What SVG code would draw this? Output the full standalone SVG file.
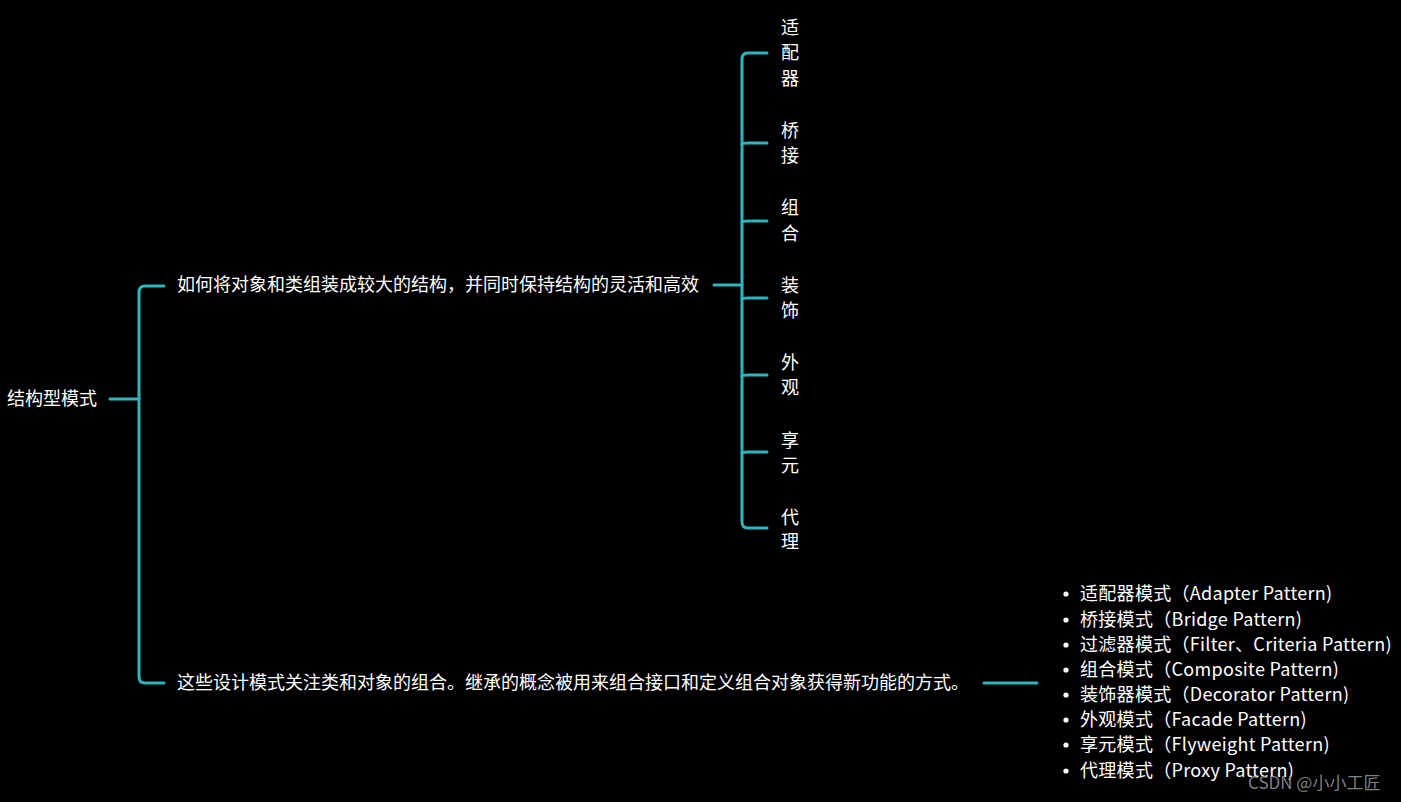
<svg xmlns="http://www.w3.org/2000/svg" width="1401" height="802" viewBox="0 0 1401 802">
<style>
text{font-family:"Microsoft YaHei","Noto Sans CJK SC","Noto Sans",sans-serif;font-size:18px;fill:#ffffff}
.c{fill:none;stroke:#2db5be;stroke-width:3;stroke-linecap:round;stroke-linejoin:round}
.v{text-anchor:middle}
.li{letter-spacing:0.3px}
.wm{fill:#9a9a9a;font-size:17px;fill-opacity:0.85}
</style>
<rect width="1401" height="802" fill="#000"/>
<g id="connectors">
<path class="c" d="M110 399H139"/>
<path class="c" d="M164 286H145Q139 286 139 292V677Q139 683 145 683H164"/>
<path class="c" d="M714 285H742"/>
<path class="c" d="M767 53H748Q742 53 742 59V522Q742 528 748 528H767"/>
<path class="c" d="M742 144Q742 143 748 143H767"/>
<path class="c" d="M742 222Q742 221 748 221H767"/>
<path class="c" d="M742 299Q742 298 748 298H767"/>
<path class="c" d="M742 376Q742 375 748 375H767"/>
<path class="c" d="M742 453Q742 452 748 452H767"/>
<path class="c" d="M984 683H1037"/>
</g>
<g id="root"><text x="7" y="405">结构型模式</text></g>
<g id="n1"><text x="177" y="291">如何将对象和类组装成较大的结构，并同时保持结构的灵活和高效</text></g>
<g id="n2"><text x="177" y="689">这些设计模式关注类和对象的组合。继承的概念被用来组合接口和定义组合对象获得新功能的方式。</text></g>
<g id="adapter"><text class="v" x="790" y="34">适</text><text class="v" x="790" y="59">配</text><text class="v" x="790" y="85">器</text></g>
<g id="bridge"><text class="v" x="790" y="137">桥</text><text class="v" x="790" y="162">接</text></g>
<g id="composite"><text class="v" x="790" y="214">组</text><text class="v" x="790" y="240">合</text></g>
<g id="decorator"><text class="v" x="790" y="292">装</text><text class="v" x="790" y="317">饰</text></g>
<g id="facade"><text class="v" x="790" y="369">外</text><text class="v" x="790" y="394">观</text></g>
<g id="flyweight"><text class="v" x="790" y="447">享</text><text class="v" x="790" y="472">元</text></g>
<g id="proxy"><text class="v" x="790" y="524">代</text><text class="v" x="790" y="548">理</text></g>
<g id="list">
<circle cx="1066" cy="594" r="2.6" fill="#fff"/><text class="li" x="1080" y="600">适配器模式（Adapter Pattern)</text>
<circle cx="1066" cy="620" r="2.6" fill="#fff"/><text class="li" x="1080" y="626">桥接模式（Bridge Pattern)</text>
<circle cx="1066" cy="645" r="2.6" fill="#fff"/><text class="li" x="1080" y="651">过滤器模式（Filter、Criteria Pattern)</text>
<circle cx="1066" cy="670" r="2.6" fill="#fff"/><text class="li" x="1080" y="676">组合模式（Composite Pattern)</text>
<circle cx="1066" cy="695" r="2.6" fill="#fff"/><text class="li" x="1080" y="701">装饰器模式（Decorator Pattern)</text>
<circle cx="1066" cy="720" r="2.6" fill="#fff"/><text class="li" x="1080" y="726">外观模式（Facade Pattern)</text>
<circle cx="1066" cy="745" r="2.6" fill="#fff"/><text class="li" x="1080" y="751">享元模式（Flyweight Pattern)</text>
<circle cx="1066" cy="771" r="2.6" fill="#fff"/><text class="li" x="1080" y="777">代理模式（Proxy Pattern)</text>
</g>
<text class="wm" x="1248" y="789">CSDN @小小工匠</text>
</svg>
